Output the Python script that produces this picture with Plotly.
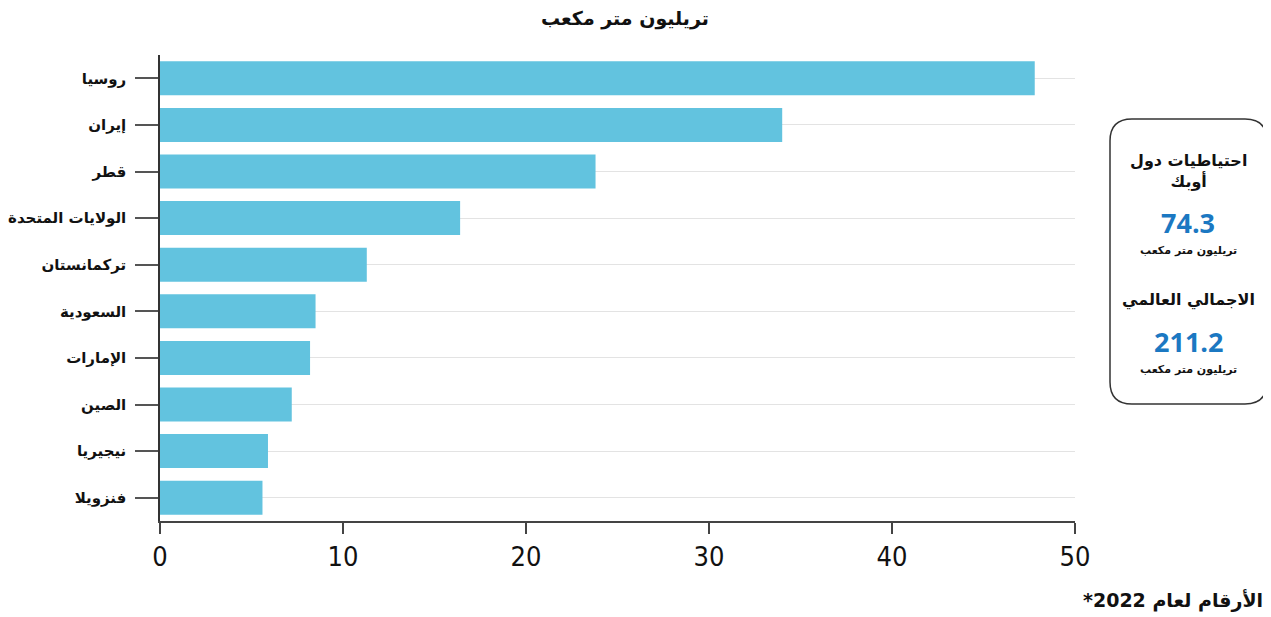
import plotly.graph_objects as go

countries = ["روسيا", "إيران", "قطر", "الولايات المتحدة", "تركمانستان",
             "السعودية", "الإمارات", "الصين", "نيجيريا", "فنزويلا"]
reserves = [47.8, 34.0, 23.8, 16.4, 11.3, 8.5, 8.2, 7.2, 5.9, 5.6]
x_ticks = [0, 10, 20, 30, 40, 50]

title_text = "تريليون متر مكعب"
note_text = "*الأرقام لعام 2022"
opec_label = "احتياطيات دول<br>أوبك"
opec_value = "74.3"
world_label = "الاجمالي العالمي"
world_value = "211.2"
unit_text = "تريليون متر مكعب"

# page is offset by the body margin (8px); compensate
OFF = 8
PAGE_W, PAGE_H = 1271, 617
W, H = PAGE_W - OFF, PAGE_H - OFF
PL, PR, PT, PB = 160, 1075, 55, 521  # plot area in page pixels
L, T = PL - OFF, PT - OFF
R, B = PAGE_W - PR, PAGE_H - PB
PW, PH = PR - PL, PB - PT

def px(x):
    return (x - PL) / PW

def py(y):
    return (PB - y) / PH

fig = go.Figure(go.Bar(
    x=reserves, y=countries, orientation="h",
    marker=dict(color="#62C3DF", line=dict(width=0)),
    width=0.73,
))

AR = "DejaVu Sans"

fig.update_layout(
    width=W, height=H,
    margin=dict(l=L, r=R, t=T, b=B, autoexpand=False),
    plot_bgcolor="white", paper_bgcolor="white",
    showlegend=False,
    xaxis=dict(range=[0, 50], tickvals=x_ticks, showgrid=False, zeroline=False,
               automargin=False,
               showline=True, linecolor="#444", linewidth=1.5,
               ticks="outside", ticklen=11, tickcolor="#444", tickwidth=1.5,
               tickfont=dict(family="DejaVu Sans Condensed, Roboto", size=27, color="#111"),
               fixedrange=True),
    yaxis=dict(categoryorder="array", categoryarray=countries[::-1],
               automargin=False,
               showgrid=True, gridcolor="#e3e3e3", gridwidth=1,
               showline=True, linecolor="#333", linewidth=1.5,
               ticks="outside", ticklen=23, tickcolor="#555", tickwidth=2,
               ticklabelstandoff=6,
               tickfont=dict(family=AR, size=15, color="#111"),
               tickprefix="<b>", ticksuffix="</b>",
               fixedrange=True),
)

# rounded box
x0, x1, y0, y1, r = 1110, 1267, 119, 404, 22
rx, ry = r / PW, r / PH
X0, X1, Y0, Y1 = px(x0), px(x1), py(y0), py(y1)
path = (f"M {X0+rx},{Y0} L {X1-rx},{Y0} Q {X1},{Y0} {X1},{Y0-ry} "
        f"L {X1},{Y1+ry} Q {X1},{Y1} {X1-rx},{Y1} L {X0+rx},{Y1} "
        f"Q {X0},{Y1} {X0},{Y1+ry} L {X0},{Y0-ry} Q {X0},{Y0} {X0+rx},{Y0} Z")
fig.add_shape(type="path", path=path, xref="paper", yref="paper",
              line=dict(color="#333", width=1.5), fillcolor="rgba(255,255,255,0)")

cx = px(1188)
def ann(text, x, y, size, color="#111", xanchor="center", family=AR):
    fig.add_annotation(text=text, x=x, y=y, xref="paper", yref="paper",
                       showarrow=False, xanchor=xanchor, yanchor="middle",
                       font=dict(family=family, size=size, color=color))

ann(f"<b>{title_text}</b>", px(625), py(18), 19)
ann(f"<b>{note_text}</b>", px(1265), py(600), 19, xanchor="right")
ann(f"<b>{opec_label}</b>", cx, py(171), 16)
ann(f"<b>{opec_value}</b>", cx, py(223), 27, color="#1B78C2", family="Open Sans")
ann(f"<b>{unit_text}</b>", cx, py(251), 11)
ann(f"<b>{world_label}</b>", cx, py(300), 16)
ann(f"<b>{world_value}</b>", cx, py(341), 27, color="#1B78C2", family="Open Sans")
ann(f"<b>{unit_text}</b>", cx, py(369), 11)

fig.write_html("out.html")
